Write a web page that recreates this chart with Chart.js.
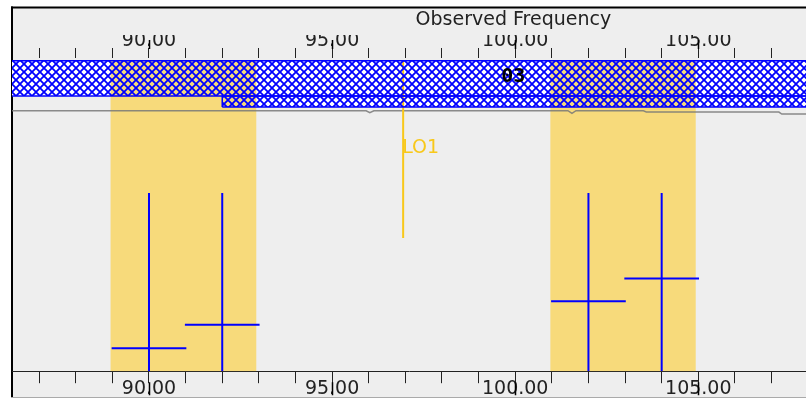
<!DOCTYPE html>
<html>
<head>
<meta charset="utf-8">
<script src="https://cdn.jsdelivr.net/npm/chart.js@4.4.1/dist/chart.umd.min.js"></script>
<style>
  html, body { margin: 0; padding: 0; background: #ffffff; }
  #wrap { width: 806px; height: 399px; }
</style>
</head>
<body>
<div id="wrap"><canvas id="spectral" width="806" height="399"></canvas></div>
<script>
const ctxEl = document.getElementById("spectral");

// Frequencies in GHz, levels in % of the plot height
const bandFreq = [84.0, 116.0];
const bandLevel = [87.86, 99.14];
const lowerStripFreq = [92.0, 116.0];
const lowerStripLevel = [84.35, 87.86];

// Basebands (yellow)
const basebandStart = [88.95, 100.96];
const basebandEnd = [92.93, 104.93];
const basebandTop = 99.14;

// Spectral windows (blue crosses)
const spwCenter = [90.0, 92.0, 102.0, 104.0];
const spwWidth = [2.04, 2.04, 2.04, 2.04];
const spwLevel = [7.35, 14.8, 22.3, 29.6];
const spwTop = 56.9;

// LO1
const loFreq = 96.94;
const loRange = [42.5, 99.14];

// Atmosphere trace (grey)
const atmFreq = [84.0, 95.93, 96.03, 96.14, 101.44, 101.55, 101.66, 103.5, 103.58, 107.2, 107.28, 110.0];
const atmLevel = [83.16, 83.16, 82.52, 83.16, 83.16, 82.33, 83.16, 83.16, 82.75, 82.75, 82.11, 82.11];

const xMin = 86.259;
const xMax = 107.941;

const LO_COLOR = "#f8c81a";
const YELLOW = "#f7da7b";
const BLUE = "#0000ff";

// crosshatch fill for the receiver band
function makeHatch() {
  const c = document.createElement("canvas");
  c.width = 8;
  c.height = 8;
  const g = c.getContext("2d");
  g.strokeStyle = BLUE;
  g.lineWidth = 1.8;
  g.beginPath();
  g.moveTo(-1, -1); g.lineTo(9, 9);
  g.moveTo(9, -1); g.lineTo(-1, 9);
  g.stroke();
  return g.createPattern(c, "repeat");
}

const rect = (x0, x1, y0, y1) => [
  { x: x0, y: y0 }, { x: x1, y: y0 }, { x: x1, y: y1 }, { x: x0, y: y1 }, { x: x0, y: y0 },
];

const hatch = makeHatch();
const bandRects = [
  rect(bandFreq[0], bandFreq[1], bandLevel[0], bandLevel[1]),
  rect(lowerStripFreq[0], lowerStripFreq[1], lowerStripLevel[0], lowerStripLevel[1]),
];

const datasets = [];

// white under the hatch
bandRects.forEach((r) => {
  datasets.push({ data: r, showLine: true, fill: "shape", backgroundColor: "#ffffff", borderWidth: 0, pointRadius: 0, order: 20 });
});

// basebands
basebandStart.forEach((s, i) => {
  datasets.push({ data: rect(s, basebandEnd[i], 0, basebandTop), showLine: true, fill: "shape", backgroundColor: YELLOW, borderWidth: 0, pointRadius: 0, order: 15 });
});

// atmosphere
datasets.push({
  data: atmFreq.map((f, i) => ({ x: f, y: atmLevel[i] })),
  showLine: true, borderColor: "rgba(120,120,120,0.85)", borderWidth: 1.5, pointRadius: 0, order: 12,
});

// LO1 marker
datasets.push({
  data: [{ x: loFreq, y: loRange[0] }, { x: loFreq, y: loRange[1] }],
  showLine: true, borderColor: LO_COLOR, borderWidth: 2, pointRadius: 0, order: 10,
});

// hatched receiver band with outline
bandRects.forEach((r) => {
  datasets.push({ data: r, showLine: true, fill: "shape", backgroundColor: hatch, borderColor: BLUE, borderWidth: 1.5, pointRadius: 0, order: 5 });
});

// spectral window crosses
spwCenter.forEach((c, i) => {
  datasets.push({
    data: [{ x: c, y: 0 }, { x: c, y: spwTop }],
    showLine: true, borderColor: BLUE, borderWidth: 2, pointRadius: 0, order: 1,
  });
  datasets.push({
    data: [{ x: c - spwWidth[i] / 2, y: spwLevel[i] }, { x: c + spwWidth[i] / 2, y: spwLevel[i] }],
    showLine: true, borderColor: BLUE, borderWidth: 2, pointRadius: 0, order: 1,
  });
});

const isMajor = (v) => Math.abs(v / 5 - Math.round(v / 5)) < 1e-6;

const frameAndText = {
  id: "frameAndText",
  beforeDraw(chart) {
    const c = chart.ctx;
    c.save();
    c.fillStyle = "#ffffff";
    c.fillRect(0, 0, chart.width, chart.height);
    c.fillStyle = "#eeeeee";
    c.fillRect(12, 7, chart.width - 12, 390);
    c.fillStyle = "#000000";
    c.fillRect(11, 6.5, chart.width - 11, 2);
    c.fillRect(11, 6.5, 2, 391);
    c.fillStyle = "#aaaaaa";
    c.fillRect(11, 397, chart.width - 11, 1);
    c.restore();
  },
  afterDraw(chart) {
    const c = chart.ctx;
    const area = chart.chartArea;
    const x = chart.scales.x;
    const y = chart.scales.y;
    c.save();
    // long major ticks running through the labels
    c.strokeStyle = "#000000";
    c.lineWidth = 1.5;
    x.ticks.forEach((t) => {
      if (!isMajor(t.value)) return;
      const px = Math.round(x.getPixelForValue(t.value)) + 0.5;
      c.beginPath();
      c.moveTo(px, area.top - 18);
      c.lineTo(px, area.top - 9);
      c.moveTo(px, area.bottom + 11);
      c.lineTo(px, area.bottom + 24);
      c.stroke();
    });
    c.fillStyle = "#222222";
    c.font = "19px 'DejaVu Sans'";
    c.textAlign = "center";
    c.textBaseline = "alphabetic";
    c.fillText("Observed Frequency", x.getPixelForValue(99.95), 25);

    c.fillStyle = LO_COLOR;
    c.textAlign = "left";
    c.fillText("LO1", x.getPixelForValue(loFreq) - 1, y.getPixelForValue(69.65));

    c.fillStyle = "#000000";
    c.font = "bold 20px 'DejaVu Sans Mono'";
    c.textAlign = "center";
    c.textBaseline = "middle";
    c.fillText("03", x.getPixelForValue(99.95), y.getPixelForValue(94.0));
    c.restore();
  },
};

const tickLabel = (v) => (isMajor(v) ? Number(v).toFixed(2) : "");

Chart.defaults.font.family = "'DejaVu Sans'";

new Chart(ctxEl, {
  type: "scatter",
  data: { datasets },
  plugins: [frameAndText],
  options: {
    responsive: false,
    devicePixelRatio: 1,
    animation: false,
    layout: { padding: { left: 12, top: 35, right: 0, bottom: 5 } },
    elements: { line: { tension: 0 } },
    plugins: {
      legend: { display: false },
      tooltip: { enabled: false },
    },
    scales: {
      x: {
        type: "linear",
        position: "bottom",
        min: xMin,
        max: xMax,
        border: { display: true, color: "#222222", width: 1 },
        grid: { drawOnChartArea: false, tickLength: 12, tickColor: "#222222" },
        ticks: {
          stepSize: 1, includeBounds: false, autoSkip: false, maxRotation: 0,
          padding: -6, color: "#222222", font: { size: 19 }, callback: tickLabel,
        },
      },
      x2: {
        type: "linear",
        position: "top",
        min: xMin,
        max: xMax,
        border: { display: false },
        grid: { drawOnChartArea: false, tickLength: 10, tickColor: "#222222" },
        ticks: {
          stepSize: 1, includeBounds: false, autoSkip: false, maxRotation: 0,
          padding: -4.9, color: "#222222", font: { size: 19 }, callback: tickLabel,
        },
      },
      y: { display: false, min: 0, max: 100 },
    },
  },
});
</script>
</body>
</html>
